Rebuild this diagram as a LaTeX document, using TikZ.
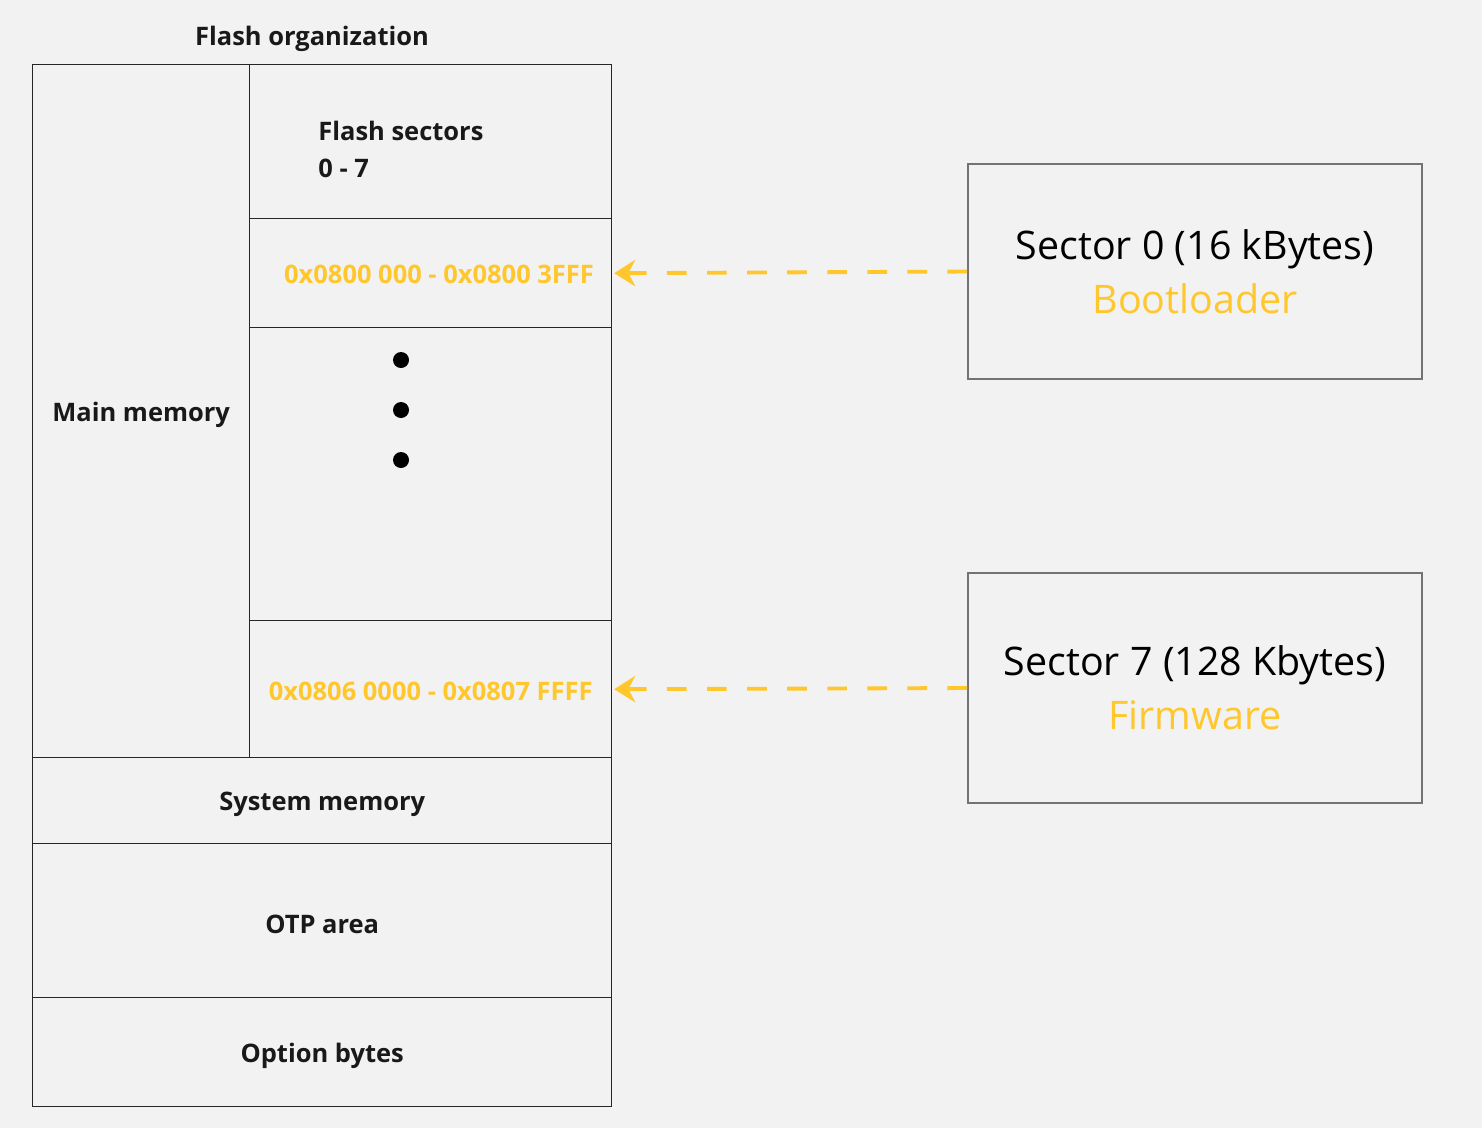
\documentclass[tikz,border=0pt]{standalone}
\usepackage{fontspec}
\setmainfont{Open Sans}
\usetikzlibrary{positioning}
\usetikzlibrary{arrows.meta,calc}
\definecolor{pagebg}{HTML}{F2F2F2}
\definecolor{gold}{HTML}{FFC72C}

\begin{document}
\begin{tikzpicture}[>={Stealth[length=6pt,width=7.5pt]},
  cell/.style={draw=black!85,line width=0.4pt,rectangle,inner sep=0pt,anchor=north west},
  label/.style={font=\bfseries\fontsize{7.25}{9}\selectfont,text=black!90,yshift=-1pt},
  addr/.style={font=\bfseries\fontsize{7.25}{9}\selectfont,text=gold,yshift=-0.5pt},
  sector box/.style={draw=black!55,line width=0.5pt,rectangle,minimum width=4.54cm,align=center,
    font=\fontsize{11.2}{15.4}\selectfont},
  link/.style={->,gold,line width=1.1pt,dash pattern=on 5.6pt off 5.8pt,shorten >=0.5pt}]
  \fill[pagebg] (0,0) rectangle (14.82,-11.28);
  \useasboundingbox (0,0) rectangle (14.82,-11.28);

  \node[label] (title) at (3.12,-0.35) {Flash organization};

  % main memory column
  \node[cell,minimum width=2.17cm,minimum height=6.93cm] (main) at (0.32,-0.64) {};
  \node[label] at (main.center) {Main memory};

  % sector column
  \node[cell,minimum width=3.62cm,minimum height=1.54cm] (sectors) at (2.49,-0.64) {};
  \node[label,anchor=west,align=left] at (3.06,-1.46) {Flash sectors\\[1.5pt]0 - 7};
  \node[cell,minimum width=3.62cm,minimum height=1.09cm] (sec0) at (2.49,-2.18) {};
  \node[addr] at (4.39,-2.73) {0x0800 000 - 0x0800 3FFF};
  \node[cell,minimum width=3.62cm,minimum height=2.93cm] (gap) at (2.49,-3.27) {};
  \foreach \y in {3.60,4.10,4.60}
    \fill (4.01,-\y) circle (0.08);
  \node[cell,minimum width=3.62cm,minimum height=1.37cm] (sec7) at (2.49,-6.20) {};
  \node[addr] at (sec7.center) {0x0806 0000 - 0x0807 FFFF};

  % lower areas
  \node[cell,minimum width=5.79cm,minimum height=0.86cm] (sysmem) at (0.32,-7.57) {};
  \node[label] at (sysmem.center) {System memory};
  \node[cell,minimum width=5.79cm,minimum height=1.54cm] (otp) at (0.32,-8.43) {};
  \node[label] at (otp.center) {OTP area};
  \node[cell,minimum width=5.79cm,minimum height=1.09cm] (optb) at (0.32,-9.97) {};
  \node[label] at (optb.center) {Option bytes};

  % sector descriptions
  \node[sector box,minimum height=2.15cm] (boot) at (11.95,-2.715)
    {Sector 0 (16 kBytes)\\\textcolor{gold}{Bootloader}};
  \node[sector box,minimum height=2.30cm] (fw) at (11.95,-6.88)
    {Sector 7 (128 Kbytes)\\\textcolor{gold}{Firmware}};

  \draw[link] (boot.west) -- (sec0.east);
  \draw[link] (fw.west) -- (sec7.east);
\end{tikzpicture}
\end{document}
